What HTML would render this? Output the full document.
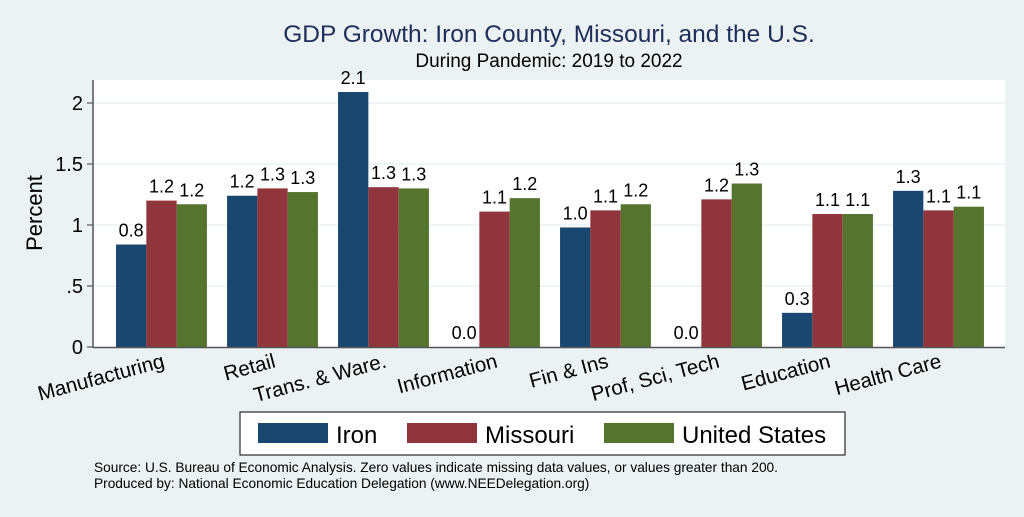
<!DOCTYPE html>
<html><head><meta charset="utf-8"><style>
body{margin:0;background:#eaf2f3;font-family:"Liberation Sans",sans-serif}
</style></head><body>
<svg width="1024" height="512" xmlns="http://www.w3.org/2000/svg" font-family="Liberation Sans, sans-serif">
<rect width="1024" height="512" fill="#eaf2f3"/>
<text x="549" y="42" text-anchor="middle" font-size="24.5" fill="#1e2d5a">GDP Growth: Iron County, Missouri, and the U.S.</text>
<text x="549" y="67" text-anchor="middle" font-size="19" fill="#000">During Pandemic: 2019 to 2022</text>
<rect x="93" y="80" width="912" height="267" fill="#fff"/>
<g id="grid"></g>
<g id="bars"></g>
<line x1="93" y1="80" x2="93" y2="348" stroke="#555" stroke-width="1.5"/>
<line x1="93" y1="347.5" x2="1005" y2="347.5" stroke="#555" stroke-width="1.5"/>
<text transform="translate(42,213) rotate(-90)" text-anchor="middle" font-size="22">Percent</text>
<g id="ticks"></g>
<g id="cats"></g>
<rect x="240" y="412" width="605" height="43" fill="#fff" stroke="#000" stroke-width="1"/>
<g id="legend"></g>
<text x="94" y="472" font-size="13.7">Source: U.S. Bureau of Economic Analysis. Zero values indicate missing data values, or values greater than 200.</text>
<text x="94" y="488" font-size="13.7">Produced by: National Economic Education Delegation (www.NEEDelegation.org)</text>
</svg>
<script>
const categories=["Manufacturing","Retail","Trans. & Ware.","Information","Fin & Ins","Prof, Sci, Tech","Education","Health Care"];
const seriesNames=["Iron","Missouri","United States"];
const iron=[0.84,1.24,2.09,0,0.98,0,0.28,1.28];
const missouri=[1.20,1.30,1.31,1.11,1.12,1.21,1.09,1.12];
const us=[1.17,1.27,1.30,1.22,1.17,1.34,1.09,1.15];
const yTicks=[0,0.5,1,1.5,2];
const yTickLabels=["0",".5","1","1.5","2"];
const colors=["#1a476f","#90353b","#55752f"];
const NS="http://www.w3.org/2000/svg";
const y=v=>347-v*122;
const gx=i=>161.5+i*111;
const bw=30.3;
function mk(t,a,p){const e=document.createElementNS(NS,t);for(const k in a)e.setAttribute(k,a[k]);p.appendChild(e);return e;}
const grid=document.getElementById('grid'),ticks=document.getElementById('ticks');
yTicks.forEach((v,i)=>{
 if(v>0){const g=mk('line',{x1:93,x2:1005,y1:y(v),y2:y(v),stroke:'#eaf2f3','stroke-width':1.5},grid);
 
 }
 const t=mk('line',{x1:87,x2:93,y1:y(v),y2:y(v),stroke:'#555','stroke-width':1.2},ticks);
 
 
 const l=mk('text',{x:83,y:y(v)+7,'text-anchor':'end','font-size':20},ticks);
 l.textContent=yTickLabels[i];
 
 
});
const bars=document.getElementById('bars'),cats=document.getElementById('cats');
const series=[iron,missouri,us];
categories.forEach((c,i)=>{
 series.forEach((s,j)=>{
  const x=gx(i)-1.5*bw+j*bw;
  const r=mk('rect',{x:x,y:y(s[i]),width:bw,height:347-y(s[i]),fill:colors[j]},bars);
  
  
  const t=mk('text',{x:x+bw/2,y:y(s[i])-8,'text-anchor':'middle','font-size':18},bars);
  t.textContent=s[i].toFixed(1);
  
  
 });
 const t=mk('text',{transform:`translate(${gx(i)+4},367) rotate(-15)`,'text-anchor':'end','font-size':20.5},cats);
 t.textContent=c;
 
 
});
const leg=document.getElementById('legend');
const lx=[258,407,604];
seriesNames.forEach((n,j)=>{
 const r=mk('rect',{x:lx[j],y:423,width:70,height:20,fill:colors[j]},leg);
 
 
 const t=mk('text',{x:lx[j]+78,y:443,'font-size':24},leg);
 t.textContent=n;
 
 
});
</script>
</body></html>
